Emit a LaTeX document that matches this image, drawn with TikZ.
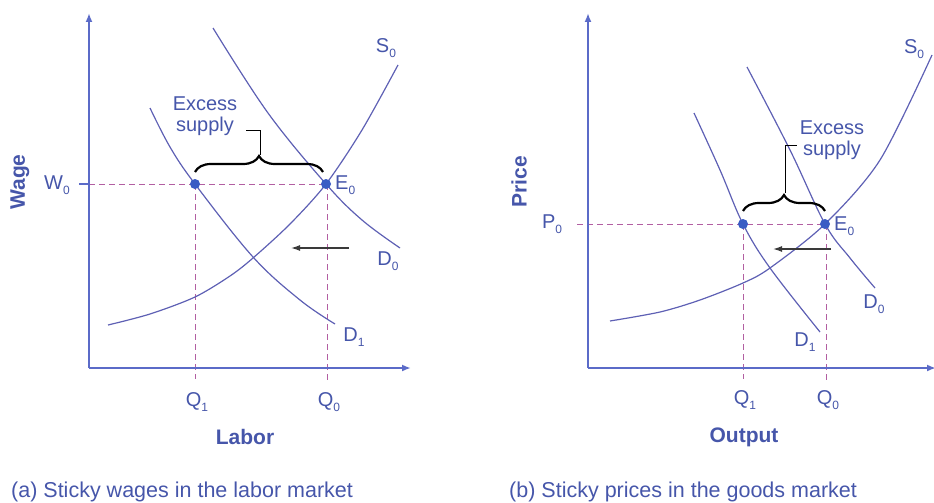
\documentclass[tikz,border=0pt]{standalone}
\usepackage{fontspec}
\setmainfont{Liberation Sans}
\usetikzlibrary{arrows.meta,decorations.pathreplacing}
\definecolor{curvecol}{HTML}{5E60B4}
\definecolor{axiscol}{HTML}{5B6BC8}
\definecolor{txtcol}{HTML}{4656AA}
\definecolor{dashcol}{HTML}{B25FA2}
\definecolor{dotcol}{HTML}{3A5CC4}
\definecolor{shiftcol}{HTML}{3A3A3A}
\newcommand\lsub[1]{\raisebox{-0.5ex}{\fontsize{12}{12}\selectfont #1}}
\tikzset{
  axisline/.style={draw=axiscol, line width=1.8pt, -{Latex[length=9pt,width=7pt]}},
  curve/.style={draw=curvecol, line width=1.2pt},
  guide/.style={draw=dashcol, line width=1pt, dash pattern=on 6pt off 4pt},
  eqdot/.style={circle, fill=dotcol, inner sep=0pt, minimum size=10pt},
  lbl/.style={text=txtcol, font=\fontsize{20}{20}\selectfont, inner sep=0pt},
  axlbl/.style={text=txtcol, font=\fontsize{21}{21}\selectfont\bfseries, inner sep=0pt},
  captiontxt/.style={text=txtcol, font=\fontsize{21.5}{21.5}\selectfont, inner sep=0pt},
  shiftarrow/.style={draw=shiftcol, line width=1.3pt, -{Latex[length=9pt,width=6pt]}},
  bracecol/.style={draw=black, line width=2.2pt, decorate, decoration={brace, amplitude=16pt}},
  callout/.style={draw=black, line width=1pt},
}
\begin{document}
\begin{tikzpicture}[x=1pt,y=-1pt]
\useasboundingbox (0,0) rectangle (934,503);
% ---------- Panel (a) ----------
\coordinate (ao) at (89,368);
\coordinate (aytop) at (89,13);
\coordinate (axend) at (411,368);
\coordinate (wtick) at (79,184);
\coordinate (q1foot) at (195,379);
\coordinate (q0foot) at (327,381);
\draw[guide] (wtick) -- (326,184);
\draw[guide] (195,184) -- (q1foot);
\draw[guide] (327,184) -- (q0foot);
\draw[axisline] (ao) -- (aytop);
\draw[axisline] (ao) -- (axend);
\draw[axiscol, line width=1.5pt] (wtick) -- (89,184);
% curves
\draw[curve] plot[smooth] coordinates {(108,325) (150,314) (195,297) (230,276) (253,258) (290,224) (326,184) (362,130) (398,65)};
\draw[curve] plot[smooth, tension=0.6] coordinates {(150,108) (170,147) (195,184) (253,257) (300,300) (335,324)};
\draw[curve] plot[smooth, tension=0.6] coordinates {(213,28) (268,113) (326,184) (362,220) (400,248)};
\node[eqdot] (a1) at (195,184) {};
\node[eqdot] (aE) at (326,184) {};
\draw[shiftarrow] (349,248) -- (291,248);
% brace & callout
\draw[bracecol] (195,172) -- (323,172);
\draw[callout] (260,155) -- (260,130) -- (246,130);
\node[lbl, align=center] (aex) at (205,116) {Excess\\[1pt]supply};
% labels
\node[lbl] (aS) at (386,48) {S\lsub{0}};
\node[lbl, anchor=west] (aEl) at (335,185) {E\lsub{0}};
\node[lbl] (aD0) at (388,261) {D\lsub{0}};
\node[lbl] (aD1) at (354,337) {D\lsub{1}};
\node[lbl] (aQ1) at (197,402) {Q\lsub{1}};
\node[lbl] (aQ0) at (329,402) {Q\lsub{0}};
\node[lbl] (aW) at (57,185) {W\lsub{0}};
\node[axlbl, rotate=90] (awage) at (20,182) {Wage};
\node[axlbl] (alab) at (245,437) {Labor};
\node[captiontxt, anchor=base west] (acap) at (11,497) {(a) Sticky wages in the labor market};
% ---------- Panel (b) ----------
\coordinate (bo) at (588,368);
\coordinate (bytop) at (588,13);
\coordinate (bxend) at (936,368);
\coordinate (ptick) at (577,224);
\coordinate (bq1foot) at (743,379);
\coordinate (bq0foot) at (826,381);
\draw[guide] (ptick) -- (825,224);
\draw[guide] (743,224) -- (bq1foot);
\draw[guide] (826,224) -- (bq0foot);
\draw[axisline] (bo) -- (bytop);
\draw[axisline] (bo) -- (bxend);
\draw[curve] plot[smooth] coordinates {(610,321) (660,312) (700,300) (743,283) (770,268) (825,224) (880,160) (932,55)};
\draw[curve] plot[smooth, tension=0.6] coordinates {(694,113) (720,170) (743,224) (770,268) (820,332)};
\draw[curve] plot[smooth, tension=0.6] coordinates {(747,67) (790,150) (825,224) (850,258) (875,288)};
\node[eqdot] (b1) at (743,224) {};
\node[eqdot] (bE) at (825,224) {};
\draw[shiftarrow] (831,249) -- (773,249);
\draw[bracecol] (743,211) -- (825,211);
\draw[callout] (785,193) -- (785,145) -- (797,145);
\node[lbl, align=center] (bex) at (832,140) {Excess\\[1pt]supply};
\node[lbl] (bS) at (914,49) {S\lsub{0}};
\node[lbl, anchor=west] (bEl) at (834,226) {E\lsub{0}};
\node[lbl] (bD0) at (874,304) {D\lsub{0}};
\node[lbl] (bD1) at (805,342) {D\lsub{1}};
\node[lbl] (bQ1) at (745,400) {Q\lsub{1}};
\node[lbl] (bQ0) at (828,400) {Q\lsub{0}};
\node[lbl] (bP) at (552,224) {P\lsub{0}};
\node[axlbl, rotate=90] (bprice) at (519,182) {Price};
\node[axlbl] (bout) at (744,437) {Output};
\node[captiontxt, anchor=base west] (bcap) at (509,497) {(b) Sticky prices in the goods market};
\end{tikzpicture}
\end{document}
